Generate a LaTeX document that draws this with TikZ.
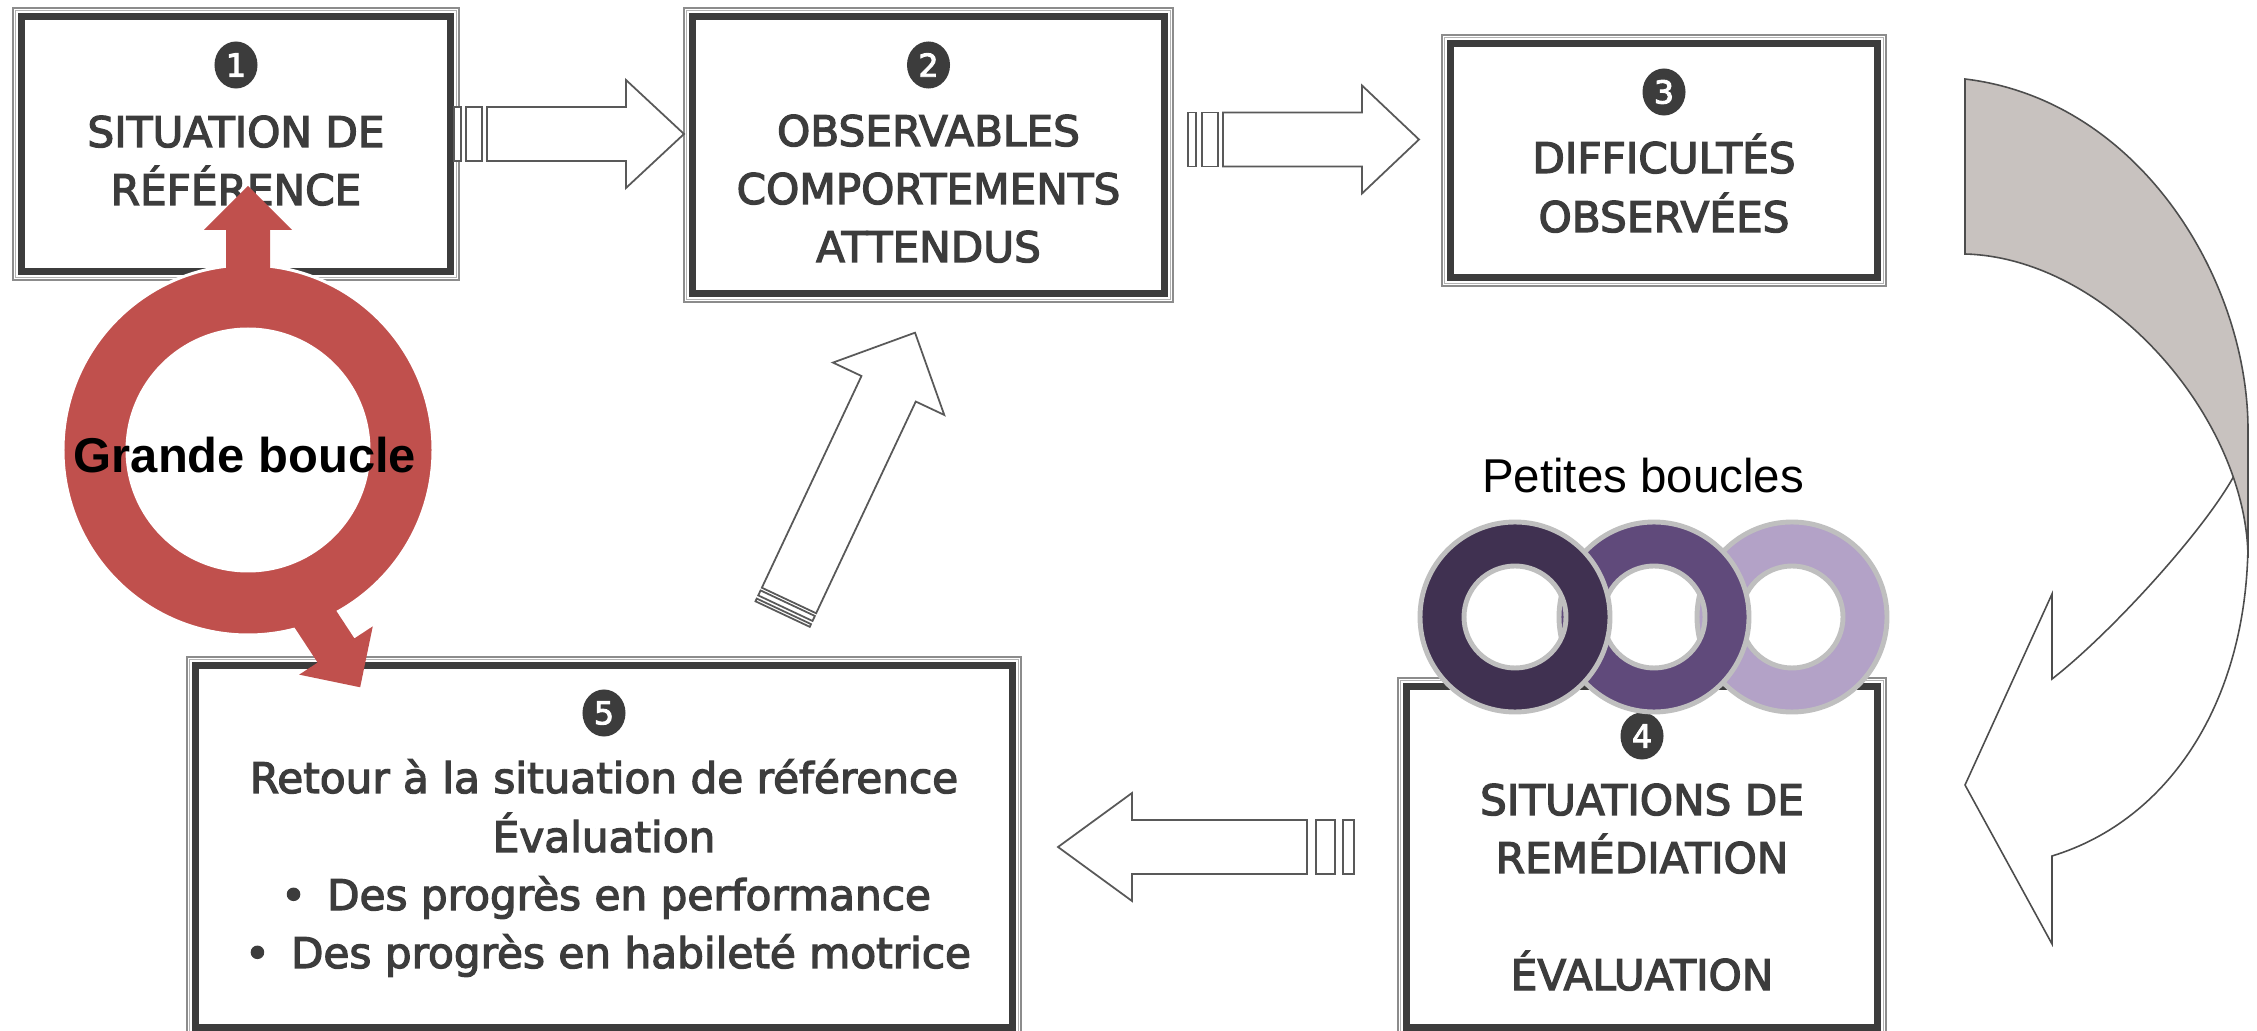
\documentclass[tikz,border=0pt]{standalone}
\usepackage{fontspec}
\setmainfont{DejaVu Sans}
\newfontfamily\comicf{DejaVu Sans}[FakeBold=3]
\newfontfamily\arialf{Liberation Sans}
\usetikzlibrary{shapes.geometric}
\definecolor{darkf}{HTML}{3C3C3C}
\definecolor{ringred}{HTML}{C0504D}
\definecolor{purA}{HTML}{403151}
\definecolor{purB}{HTML}{604A7B}
\definecolor{purC}{HTML}{B3A2C7}
\definecolor{ringedge}{HTML}{BFBFBF}
\definecolor{backband}{RGB}{200,194,191}
\definecolor{arrowline}{HTML}{595959}
\definecolor{curveline}{HTML}{4D4D4D}
\tikzset{
  frameouter/.style={rectangle, draw=black!45, line width=0.34pt, fill=white, inner sep=0pt, outer sep=0pt},
  framemid/.style={draw=black!30, line width=0.3pt},
  framedark/.style={draw=darkf, line width=2pt},
  numdisk/.style={ellipse, fill=darkf, minimum width=0.43cm, minimum height=0.47cm, inner sep=0pt, text=white, font=\comicf\fontsize{9}{9}\selectfont},
  boxtext/.style={anchor=base, inner sep=0pt, text=darkf, font=\comicf\fontsize{12}{14}\selectfont},
  blockar/.style={draw=arrowline, fill=white, line width=0.5pt, line join=miter},
  curvefront/.style={draw=curveline, fill=white, line width=0.45pt, line join=miter},
  curveback/.style={draw=curveline, fill=backband, line width=0.45pt, line join=miter},
  bigring/.style={fill=ringred, even odd rule, draw=white, line width=0.85pt},
  smallring/.style={even odd rule, draw=ringedge, line width=1.4pt},
  labbold/.style={anchor=base, inner sep=0pt, font=\arialf\bfseries\fontsize{13.9}{16}\selectfont},
  labreg/.style={anchor=base, inner sep=0pt, font=\arialf\fontsize{13.5}{16}\selectfont}
}
% frame: name, x1, y1, x2, y2 (pixel units)
\newcommand\stepframe[5]{%
  \node[frameouter, minimum width={(#4-#2)*0.01cm}, minimum height={(#5-#3)*0.01cm}] (#1) at ({(#2+#4)/2},{(#3+#5)/2}) {};
  \draw[framemid] ([shift={(2.8,2.8)}]#1.north west) rectangle ([shift={(-2.8,-2.8)}]#1.south east);
  \draw[framedark] ([shift={(8.5,8.5)}]#1.north west) rectangle ([shift={(-8.5,-8.5)}]#1.south east);
}
% striped horizontal arrow: name, bar1a, bar1b, bar2a, bar2b, shaft start, head base, tip, y centre
\newcommand\hstripe[9]{%
  \coordinate (#1) at (#8,#9);
  \draw[blockar] (#2,{#9-27}) -- (#3,{#9-27}) -- (#3,{#9+27}) -- (#2,{#9+27}) -- cycle;
  \draw[blockar] (#4,{#9-27}) -- (#5,{#9-27}) -- (#5,{#9+27}) -- (#4,{#9+27}) -- cycle;
  \draw[blockar] (#6,{#9-27}) -- (#7,{#9-27}) -- (#7,{#9-54}) -- (#8,#9) -- (#7,{#9+54}) -- (#7,{#9+27}) -- (#6,{#9+27}) -- cycle;
}
\begin{document}
\begin{tikzpicture}[x=0.01cm, y=-0.01cm]
\useasboundingbox (0,0) rectangle (2257,1031);
\clip (0,0) rectangle (2257,1031);

% ---- boxes ----
\stepframe{b1}{13}{8}{459}{280}
\stepframe{b2}{684}{8}{1173}{302}
\stepframe{b3}{1442}{35}{1886}{286}
\stepframe{b4}{1398}{678}{1886}{1036}
\stepframe{b5}{187}{657}{1021}{1036}

% box 1
\node[numdisk] (n1) at (236,65) {1};
\node[boxtext] (t1a) at (236,147) {SITUATION DE};
\node[boxtext] (t1b) at (236,205) {RÉFÉRENCE};
% box 2
\node[numdisk] (n2) at (928.5,65) {2};
\node[boxtext] (t2a) at (928.5,146) {OBSERVABLES};
\node[boxtext] (t2b) at (928.5,204) {COMPORTEMENTS};
\node[boxtext] (t2c) at (928.5,262) {ATTENDUS};
% box 3
\node[numdisk] (n3) at (1664,92) {3};
\node[boxtext] (t3a) at (1664,173) {DIFFICULTÉS};
\node[boxtext] (t3b) at (1664,232) {OBSERVÉES};
% box 4
\node[numdisk] (n4) at (1642,736) {4};
\node[boxtext] (t4a) at (1642,815) {SITUATIONS DE};
\node[boxtext] (t4b) at (1642,873) {REMÉDIATION};
\node[boxtext] (t4c) at (1642,990) {ÉVALUATION};
% box 5
\node[numdisk] (n5) at (604,713) {5};
\node[boxtext] (t5a) at (604,793) {Retour à la situation de référence};
\node[boxtext] (t5b) at (604,852) {Évaluation};
\node[boxtext] (t5c) at (606,910) {•\hspace{6pt}Des progrès en performance};
\node[boxtext] (t5d) at (608,968) {•\hspace{6pt}Des progrès en habileté motrice};

% ---- striped block arrows ----
\hstripe{a12}{454}{461}{466}{482}{487}{626}{684}{134}
\hstripe{a23}{1188}{1196}{1202}{1218}{1223}{1362}{1419}{139.5}
\hstripe{a45}{1354}{1343}{1335}{1316}{1307}{1132}{1058}{847}

% ---- curved arrow (3 -> 4) ----
\draw[curvefront] (2248,440) -- (2235,474) .. controls (2205,530) and (2110,634) .. (2052,679)
  -- (2052,594) -- (1965,785) -- (2052,944) -- (2052,856)
  .. controls (2170,820) and (2248,700) .. (2248,540) -- cycle;
\draw[curveback] (1965,79) .. controls (2140,100) and (2248,280) .. (2248,430) -- (2248,558)
  .. controls (2247,420) and (2110,258) .. (1965,254) -- cycle;

% ---- diagonal arrow (5 -> 2) ----
\begin{scope}[shift={(789,600.5)}, rotate=64.8]
  \coordinate (a52) at (296,0);
  \draw[blockar] (0,-30) -- (234,-30) -- (234,-61.5) -- (296,0) -- (234,61.5) -- (234,30) -- (0,30) -- cycle;
  \draw[blockar] (-3,-30) -- (-8.5,-30) -- (-8.5,30) -- (-3,30) -- cycle;
  \draw[blockar] (-12,-30) -- (-15,-30) -- (-15,30) -- (-12,30) -- cycle;
\end{scope}

% ---- grande boucle ----
\path[bigring] (248,450) circle[radius=185] (248,450) circle[radius=121];
\fill[ringred] (226,292) -- (226,230) -- (204,230) -- (248,186) -- (292,230) -- (270,230) -- (270,292) -- cycle;
\begin{scope}[shift={(336,650.5)}, rotate=-56.7]
  \fill[ringred] (-62,-22) -- (0,-22) -- (0,-44) -- (44,0) -- (0,44) -- (0,22) -- (-62,22) -- cycle;
\end{scope}
\node[labbold] (gb) at (245,473) {Grande boucle};

% ---- petites boucles ----
\path[smallring, fill=purC] (1792,617) circle[radius=95] (1792,617) circle[radius=51];
\path[smallring, fill=purB] (1654,617) circle[radius=95] (1654,617) circle[radius=51];
\path[smallring, fill=purA] (1515,617) circle[radius=95] (1515,617) circle[radius=51];
\node[labreg] (pb) at (1643,493) {Petites boucles};
\end{tikzpicture}
\end{document}
